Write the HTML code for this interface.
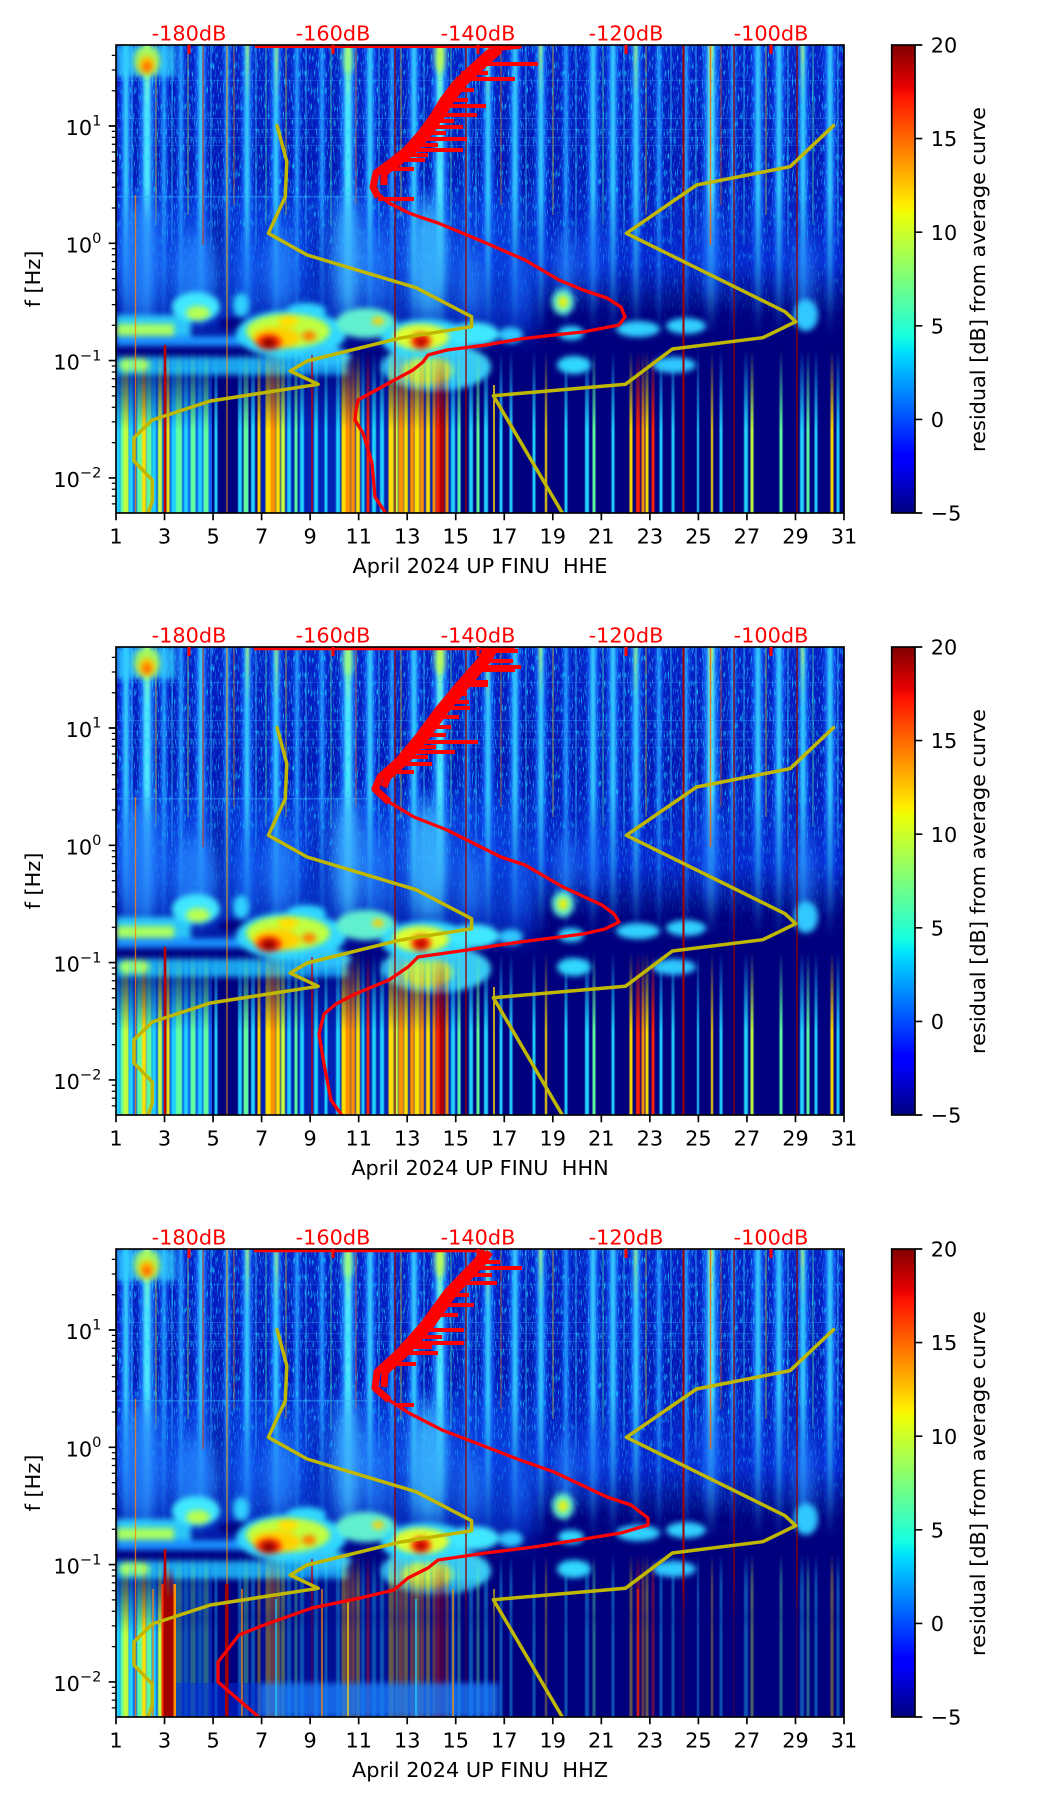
<!DOCTYPE html>
<html><head><meta charset="utf-8"><title>Spectrogram FINU April 2024</title>
<style>
html,body{margin:0;padding:0;background:#fff}
svg{display:block}
text{font-family:"DejaVu Sans","Liberation Sans",sans-serif;font-size:20.83px;fill:#000}
.db{fill:#ff0000;text-anchor:middle}
.xt{text-anchor:middle}
.yl{fill:none;stroke:#c0b800;stroke-width:3.5;stroke-linejoin:round;stroke-linecap:round}
.rd{fill:none;stroke:#ff0000;stroke-width:3.3;stroke-linejoin:round;stroke-linecap:round}
.rj{fill:none;stroke:#ff0000;stroke-width:7;stroke-linejoin:round}
.sp{stroke:#ff0000;stroke-width:4}
</style></head><body>
<svg xmlns="http://www.w3.org/2000/svg" width="1052" height="1806" viewBox="0 0 1052 1806">
<defs>
<linearGradient id="jet" x1="0" y1="1" x2="0" y2="0">
<stop offset="0" stop-color="#00007f"/><stop offset="0.11" stop-color="#0000ff"/><stop offset="0.125" stop-color="#0000ff"/>
<stop offset="0.34" stop-color="#00dbff"/><stop offset="0.35" stop-color="#00e6f7"/><stop offset="0.375" stop-color="#15ffe2"/>
<stop offset="0.64" stop-color="#eeff08"/><stop offset="0.65" stop-color="#f7f500"/><stop offset="0.66" stop-color="#ffec00"/>
<stop offset="0.89" stop-color="#ff1300"/><stop offset="0.91" stop-color="#e80000"/><stop offset="1" stop-color="#800000"/>
</linearGradient>
<linearGradient id="gTop" gradientUnits="userSpaceOnUse" x1="0" y1="0" x2="0" y2="300">
<stop offset="0" stop-color="#0620c8"/><stop offset="0.4" stop-color="#0418b8"/><stop offset="0.72" stop-color="#0628d0"/>
<stop offset="0.85" stop-color="#02108f"/><stop offset="0.9" stop-color="#00007f"/><stop offset="1" stop-color="#00007f"/>
</linearGradient>
<linearGradient id="gmTop" gradientUnits="userSpaceOnUse" x1="0" y1="0" x2="0" y2="290">
<stop offset="0" stop-color="#fff"/><stop offset="0.5" stop-color="#fff"/><stop offset="0.75" stop-color="#fff" stop-opacity="0.55"/><stop offset="1" stop-color="#fff" stop-opacity="0"/>
</linearGradient>
<linearGradient id="gmLow" gradientUnits="userSpaceOnUse" x1="0" y1="305" x2="0" y2="385">
<stop offset="0" stop-color="#fff" stop-opacity="0"/><stop offset="1" stop-color="#fff" stop-opacity="1"/>
</linearGradient>
<linearGradient id="gDark" gradientUnits="userSpaceOnUse" x1="0" y1="328" x2="0" y2="368">
<stop offset="0" stop-color="#00007f" stop-opacity="0"/><stop offset="1" stop-color="#00007f" stop-opacity="0.6"/>
</linearGradient>
<linearGradient id="gDR" gradientUnits="userSpaceOnUse" x1="0" y1="318" x2="0" y2="350">
<stop offset="0" stop-color="#a00000" stop-opacity="0"/><stop offset="1" stop-color="#a00000" stop-opacity="1"/>
</linearGradient>
<linearGradient id="gYT" gradientUnits="userSpaceOnUse" x1="0" y1="0" x2="0" y2="60">
<stop offset="0" stop-color="#d0ff50" stop-opacity="0.8"/><stop offset="1" stop-color="#d0ff50" stop-opacity="0"/>
</linearGradient>
<mask id="mTop" maskUnits="userSpaceOnUse" x="0" y="0" width="728" height="468"><rect width="728" height="468" fill="url(#gmTop)"/></mask>
<mask id="mLow" maskUnits="userSpaceOnUse" x="0" y="0" width="728" height="468"><rect width="728" height="468" fill="url(#gmLow)"/></mask>
<clipPath id="clip"><rect x="0" y="0" width="728" height="468"/></clipPath>
<filter id="fb1" x="-20%" y="-5%" width="140%" height="110%" color-interpolation-filters="sRGB"><feGaussianBlur stdDeviation="1.2 0"/></filter>
<filter id="fb6" x="-50%" y="-50%" width="200%" height="200%" color-interpolation-filters="sRGB"><feGaussianBlur stdDeviation="7 12"/></filter>
<filter id="fb3" x="-20%" y="-20%" width="140%" height="140%" color-interpolation-filters="sRGB"><feGaussianBlur stdDeviation="3"/></filter>
<filter id="fb05" x="-5%" y="-5%" width="110%" height="110%" color-interpolation-filters="sRGB"><feGaussianBlur stdDeviation="0.6 0"/></filter>
<filter id="nz" filterUnits="userSpaceOnUse" x="0" y="0" width="728" height="300" color-interpolation-filters="sRGB">
<feTurbulence type="fractalNoise" baseFrequency="0.8 0.12" numOctaves="2" seed="7"/>
<feColorMatrix type="matrix" values="0 0 0 0 0.1  0 0 0 0 0.8  0 0 0 0 1  3.5 0 0 0 -1.9"/>
</filter>

<g id="spec">
<rect width="728" height="468" fill="#00007f"/>
<rect width="728" height="300" fill="url(#gTop)"/>
<rect x="0" y="150" width="420" height="140" fill="#0c48e8" opacity="0.6" filter="url(#fb6)"/>
<g fill="#000080" filter="url(#fb6)">
<ellipse cx="103" cy="210" rx="9" ry="55" opacity="0.6"/>
<ellipse cx="205" cy="205" rx="8" ry="45" opacity="0.45"/>
<ellipse cx="405" cy="140" rx="8" ry="100" opacity="0.35"/>
</g>
<g mask="url(#mTop)">
<g filter="url(#fb1)">
<g fill="#1a70ff" opacity="0.75"><rect x="23" y="0" width="16" height="290"/><rect x="224" y="0" width="16" height="290"/><rect x="316" y="0" width="16" height="290"/><rect x="587" y="0" width="16" height="290"/></g>
<g fill="#1460ff" opacity="0.7"><rect x="4" y="0" width="12" height="290"/><rect x="79" y="0" width="12" height="290"/><rect x="125" y="0" width="12" height="290"/><rect x="154" y="0" width="12" height="290"/><rect x="248" y="0" width="12" height="290"/><rect x="292" y="0" width="12" height="290"/><rect x="366" y="0" width="12" height="290"/><rect x="393" y="0" width="12" height="290"/><rect x="419" y="0" width="12" height="290"/><rect x="471" y="0" width="12" height="290"/><rect x="491" y="0" width="12" height="290"/><rect x="514" y="0" width="12" height="290"/><rect x="636" y="0" width="12" height="290"/><rect x="657" y="0" width="12" height="290"/><rect x="681" y="0" width="12" height="290"/><rect x="708" y="0" width="12" height="290"/></g>
<g fill="#0e50f0" opacity="0.7"><rect x="44" y="0" width="8" height="290"/><rect x="61" y="0" width="8" height="290"/><rect x="107" y="0" width="8" height="290"/><rect x="177" y="0" width="8" height="290"/><rect x="202" y="0" width="8" height="290"/><rect x="272" y="0" width="8" height="290"/><rect x="347" y="0" width="8" height="290"/><rect x="446" y="0" width="8" height="290"/><rect x="539" y="0" width="8" height="290"/><rect x="566" y="0" width="8" height="290"/><rect x="613" y="0" width="8" height="290"/></g>
<g fill="#50e8ff"><rect x="27.5" y="0" width="7" height="290"/><rect x="228.5" y="0" width="7" height="290"/><rect x="320.5" y="0" width="7" height="290"/><rect x="591.5" y="0" width="7" height="290"/></g>
<g fill="#38c8ff"><rect x="7.5" y="0" width="5" height="290"/><rect x="82.5" y="0" width="5" height="290"/><rect x="128.5" y="0" width="5" height="290"/><rect x="157.5" y="0" width="5" height="290"/><rect x="251.5" y="0" width="5" height="290"/><rect x="295.5" y="0" width="5" height="290"/><rect x="369.5" y="0" width="5" height="290"/><rect x="396.5" y="0" width="5" height="290"/><rect x="422.5" y="0" width="5" height="290"/><rect x="474.5" y="0" width="5" height="290"/><rect x="494.5" y="0" width="5" height="290"/><rect x="517.5" y="0" width="5" height="290"/><rect x="639.5" y="0" width="5" height="290"/><rect x="660.5" y="0" width="5" height="290"/><rect x="684.5" y="0" width="5" height="290"/><rect x="711.5" y="0" width="5" height="290"/></g>
<g fill="#2aa0ff"><rect x="46.5" y="0" width="3" height="290"/><rect x="63.5" y="0" width="3" height="290"/><rect x="109.5" y="0" width="3" height="290"/><rect x="179.5" y="0" width="3" height="290"/><rect x="204.5" y="0" width="3" height="290"/><rect x="274.5" y="0" width="3" height="290"/><rect x="349.5" y="0" width="3" height="290"/><rect x="448.5" y="0" width="3" height="290"/><rect x="541.5" y="0" width="3" height="290"/><rect x="568.5" y="0" width="3" height="290"/><rect x="615.5" y="0" width="3" height="290"/></g>
<g fill="url(#gYT)"><rect x="29" y="0" width="4" height="60"/><rect x="230" y="0" width="4" height="60"/><rect x="322" y="0" width="4" height="60"/><rect x="593" y="0" width="4" height="60"/><rect x="130" y="0" width="3" height="60"/><rect x="159" y="0" width="3" height="60"/><rect x="370" y="0" width="3" height="60"/><rect x="423" y="0" width="3" height="60"/><rect x="518" y="0" width="3" height="60"/><rect x="685" y="0" width="3" height="60"/></g>
</g>
<g opacity="0.55" stroke-width="1.2">
<line x1="16" y1="0" x2="16" y2="200" stroke="#40e0ff"/><line x1="40" y1="0" x2="40" y2="180" stroke="#ffe000"/><line x1="56" y1="0" x2="56" y2="200" stroke="#40e0ff"/><line x1="72" y1="0" x2="72" y2="170" stroke="#c0ff40"/><line x1="95" y1="0" x2="95" y2="200" stroke="#40e0ff"/><line x1="118" y1="0" x2="118" y2="160" stroke="#ffa000"/><line x1="140" y1="0" x2="140" y2="200" stroke="#40e0ff"/><line x1="150" y1="0" x2="150" y2="180" stroke="#60ffa0"/><line x1="170" y1="0" x2="170" y2="170" stroke="#ffe000"/><line x1="190" y1="0" x2="190" y2="200" stroke="#40e0ff"/><line x1="215" y1="0" x2="215" y2="180" stroke="#60ffa0"/><line x1="240" y1="0" x2="240" y2="160" stroke="#ff6000"/><line x1="263" y1="0" x2="263" y2="200" stroke="#40e0ff"/><line x1="285" y1="0" x2="285" y2="170" stroke="#ffe000"/><line x1="308" y1="0" x2="308" y2="200" stroke="#40e0ff"/><line x1="335" y1="0" x2="335" y2="180" stroke="#60ffa0"/><line x1="360" y1="0" x2="360" y2="200" stroke="#40e0ff"/><line x1="385" y1="0" x2="385" y2="160" stroke="#ff8000"/><line x1="410" y1="0" x2="410" y2="200" stroke="#40e0ff"/><line x1="437" y1="0" x2="437" y2="170" stroke="#ffe000"/><line x1="460" y1="0" x2="460" y2="200" stroke="#40e0ff"/><line x1="487" y1="0" x2="487" y2="180" stroke="#60ffa0"/><line x1="508" y1="0" x2="508" y2="200" stroke="#40e0ff"/><line x1="530" y1="0" x2="530" y2="170" stroke="#ffe000"/><line x1="555" y1="0" x2="555" y2="200" stroke="#40e0ff"/><line x1="580" y1="0" x2="580" y2="200" stroke="#40e0ff"/><line x1="605" y1="0" x2="605" y2="160" stroke="#ff6000"/><line x1="628" y1="0" x2="628" y2="200" stroke="#40e0ff"/><line x1="650" y1="0" x2="650" y2="170" stroke="#ffe000"/><line x1="672" y1="0" x2="672" y2="200" stroke="#40e0ff"/><line x1="697" y1="0" x2="697" y2="180" stroke="#60ffa0"/><line x1="722" y1="0" x2="722" y2="200" stroke="#40e0ff"/>
</g>
<rect width="728" height="300" filter="url(#nz)"/>
</g>
<g fill="#30b0ff">
<rect x="0" y="73" width="728" height="1" opacity="0.35"/><rect x="0" y="84" width="728" height="1" opacity="0.25"/>
<rect x="0" y="92" width="728" height="1" opacity="0.25"/><rect x="0" y="100" width="728" height="1" opacity="0.25"/>
<rect x="0" y="151" width="260" height="1.5" opacity="0.45"/><rect x="0" y="35" width="728" height="1" opacity="0.25"/>
</g>
<g filter="url(#fb3)">
<rect x="0" y="0" width="60" height="32" fill="#30d0ff" opacity="0.75"/>
<ellipse cx="31" cy="16" rx="13" ry="16" fill="#b0ff50" opacity="0.9"/>
<ellipse cx="31" cy="20" rx="8" ry="9" fill="#ffc000"/>
<ellipse cx="31" cy="22" rx="4" ry="5" fill="#ff6000"/>
<ellipse cx="324" cy="12" rx="5" ry="16" fill="#c8ff40" opacity="0.8"/>
<ellipse cx="232" cy="14" rx="5" ry="16" fill="#a0ff70" opacity="0.7"/>
</g>
<g filter="url(#fb6)">
<ellipse cx="25" cy="215" rx="20" ry="60" fill="#2a8cff" opacity="0.7"/>
<ellipse cx="80" cy="228" rx="22" ry="42" fill="#2a90ff" opacity="0.7"/>
<ellipse cx="130" cy="230" rx="9" ry="35" fill="#2080ff" opacity="0.6"/>
<ellipse cx="165" cy="225" rx="15" ry="42" fill="#2a90ff" opacity="0.7"/>
<ellipse cx="232" cy="212" rx="15" ry="60" fill="#40b8ff" opacity="0.75"/>
<ellipse cx="262" cy="225" rx="11" ry="42" fill="#2a90ff" opacity="0.6"/>
<ellipse cx="312" cy="215" rx="18" ry="60" fill="#40c4ff" opacity="0.8"/>
<ellipse cx="355" cy="238" rx="12" ry="35" fill="#2a90ff" opacity="0.6"/>
<ellipse cx="405" cy="235" rx="9" ry="35" fill="#1c70ff" opacity="0.5"/>
<ellipse cx="450" cy="222" rx="11" ry="35" fill="#2a90ff" opacity="0.6"/>
<ellipse cx="478" cy="212" rx="9" ry="38" fill="#1c70ff" opacity="0.5"/>
<ellipse cx="595" cy="205" rx="11" ry="50" fill="#1c70ff" opacity="0.5"/>
<ellipse cx="688" cy="228" rx="10" ry="40" fill="#2a90ff" opacity="0.6"/>
</g>
<g filter="url(#fb3)">
<rect x="0" y="270" width="75" height="28" fill="#30d8ff" opacity="0.9"/>
<rect x="0" y="279" width="58" height="12" fill="#a8ff60"/>
<rect x="0" y="291" width="135" height="10" fill="#1a90ff"/>
<rect x="0" y="302" width="140" height="9" fill="#000080" opacity="0.8"/>
<rect x="0" y="312" width="232" height="18" fill="#20c0ff" opacity="0.85"/>
<ellipse cx="18" cy="320" rx="16" ry="7" fill="#a0ff70"/>
<ellipse cx="80" cy="262" rx="24" ry="15" fill="#40e8ff"/>
<ellipse cx="82" cy="268" rx="12" ry="7" fill="#b8ff50"/>
<ellipse cx="125" cy="260" rx="8" ry="12" fill="#30d0ff"/>
<ellipse cx="120" cy="279" rx="18" ry="6" fill="#000080"/>
<ellipse cx="190" cy="266" rx="20" ry="8" fill="#30d8ff"/>
<ellipse cx="175" cy="289" rx="55" ry="24" fill="#30d8ff"/>
<ellipse cx="172" cy="286" rx="42" ry="17" fill="#c0ff40"/>
<ellipse cx="172" cy="276" rx="10" ry="6" fill="#ffe000"/>
<ellipse cx="160" cy="293" rx="24" ry="11" fill="#ffd000"/>
<ellipse cx="153" cy="297" rx="13" ry="8" fill="#ff3000"/>
<ellipse cx="153" cy="298" rx="7" ry="5" fill="#900000"/>
<ellipse cx="193" cy="291" rx="7" ry="5" fill="#ff8000"/>
<ellipse cx="210" cy="312" rx="25" ry="10" fill="#30c8ff"/>
<ellipse cx="250" cy="278" rx="30" ry="15" fill="#60f0d0"/>
<ellipse cx="262" cy="276" rx="6" ry="4" fill="#ffd000"/>
<ellipse cx="320" cy="322" rx="55" ry="24" fill="#40e0ff" opacity="0.9"/>
<ellipse cx="312" cy="326" rx="26" ry="14" fill="#d0ff40" opacity="0.8"/>
<ellipse cx="310" cy="294" rx="45" ry="20" fill="#30d8ff"/>
<ellipse cx="305" cy="292" rx="28" ry="13" fill="#e0ff30"/>
<ellipse cx="305" cy="296" rx="10" ry="8" fill="#ff3000"/>
<ellipse cx="305" cy="297" rx="5" ry="4" fill="#b00000"/>
<ellipse cx="358" cy="289" rx="25" ry="12" fill="#40e8ff"/>
<ellipse cx="395" cy="290" rx="12" ry="8" fill="#30c8ff"/>
<ellipse cx="447" cy="257" rx="11" ry="13" fill="#60f0d0"/>
<ellipse cx="447" cy="257" rx="5" ry="6" fill="#f0f000"/>
<ellipse cx="455" cy="288" rx="13" ry="7" fill="#30d8ff"/>
<ellipse cx="522" cy="284" rx="22" ry="8" fill="#30d0ff"/>
<ellipse cx="570" cy="281" rx="20" ry="8" fill="#30d0ff"/>
<ellipse cx="690" cy="270" rx="12" ry="16" fill="#30c8ff"/>
<ellipse cx="458" cy="320" rx="17" ry="9" fill="#30d8ff"/>
<ellipse cx="558" cy="320" rx="22" ry="8" fill="#30c8ff"/>
</g>
<g mask="url(#mLow)">
<rect x="0" y="300" width="96" height="168" fill="#0a78ff" opacity="0.85"/>
<rect x="145" y="300" width="200" height="168" fill="#0038d8" opacity="0.6"/>
<g filter="url(#fb05)">
<rect x="0" y="300" width="4" height="168" fill="#20d0ff"/><rect x="4.5" y="300" width="3" height="168" fill="#60ffa0"/><rect x="7.5" y="300" width="5" height="168" fill="#c0ff40"/><rect x="13" y="300" width="4" height="168" fill="#20d0ff"/><rect x="21" y="300" width="6" height="168" fill="#60ffa0"/><rect x="26" y="300" width="4" height="168" fill="#ffe000"/><rect x="30.5" y="300" width="5" height="168" fill="#60ffa0"/><rect x="36" y="300" width="4" height="168" fill="#20d0ff"/><rect x="42" y="300" width="4" height="168" fill="#c0ff40"/><rect x="50.5" y="300" width="3" height="168" fill="#ffe000"/><rect x="55.5" y="300" width="5" height="168" fill="#20d0ff"/><rect x="60" y="300" width="6" height="168" fill="#60ffa0"/><rect x="68" y="300" width="4" height="168" fill="#20d0ff"/><rect x="74.5" y="300" width="5" height="168" fill="#60ffa0"/><rect x="82" y="300" width="4" height="168" fill="#20d0ff"/><rect x="87.5" y="300" width="5" height="168" fill="#60ffa0"/><rect x="98.5" y="300" width="3" height="168" fill="#20d0ff"/>
<rect x="122" y="300" width="4" height="168" fill="#20d0ff"/><rect x="127.5" y="300" width="5" height="168" fill="#60ffa0"/><rect x="135" y="300" width="4" height="168" fill="#20d0ff"/><rect x="141.5" y="300" width="3" height="168" fill="#ffe000"/><rect x="149.5" y="300" width="5" height="168" fill="#ffe000"/><rect x="154.5" y="300" width="5" height="168" fill="#ff9000"/><rect x="160" y="300" width="4" height="168" fill="#ffe000"/><rect x="165" y="300" width="4" height="168" fill="#c0ff40"/><rect x="171" y="300" width="4" height="168" fill="#20d0ff"/><rect x="178.5" y="300" width="3" height="168" fill="#60ffa0"/><rect x="184" y="300" width="4" height="168" fill="#20d0ff"/><rect x="198" y="300" width="4" height="168" fill="#20d0ff"/><rect x="208.5" y="300" width="3" height="168" fill="#20d0ff"/>
<rect x="220" y="300" width="4" height="168" fill="#20d0ff"/><rect x="225.5" y="300" width="5" height="168" fill="#ffe000"/><rect x="229.5" y="300" width="5" height="168" fill="#ff9000"/><rect x="235" y="300" width="4" height="168" fill="#ff9000"/><rect x="240" y="300" width="4" height="168" fill="#ffe000"/><rect x="245.5" y="300" width="3" height="168" fill="#20d0ff"/><rect x="250.5" y="300" width="3" height="168" fill="#ff2000"/><rect x="256" y="300" width="4" height="168" fill="#20d0ff"/><rect x="264" y="300" width="4" height="168" fill="#20d0ff"/><rect x="272.5" y="300" width="5" height="168" fill="#ffe000"/><rect x="278" y="300" width="4" height="168" fill="#c0ff40"/><rect x="282.5" y="300" width="5" height="168" fill="#ff9000"/><rect x="288" y="300" width="4" height="168" fill="#ffe000"/><rect x="294" y="300" width="4" height="168" fill="#ff9000"/><rect x="298.5" y="300" width="5" height="168" fill="#ffe000"/><rect x="304" y="300" width="4" height="168" fill="#ff9000"/><rect x="310" y="300" width="4" height="168" fill="#ffe000"/><rect x="316.5" y="300" width="3" height="168" fill="#ff9000"/><rect x="320" y="300" width="4" height="168" fill="#ff2000"/><rect x="323.5" y="300" width="5" height="168" fill="#b00000"/><rect x="329.5" y="300" width="3" height="168" fill="#ff9000"/><rect x="335" y="300" width="4" height="168" fill="#20d0ff"/><rect x="341.5" y="300" width="3" height="168" fill="#60ffa0"/>
<rect x="353" y="300" width="4" height="168" fill="#20d0ff"/><rect x="360.5" y="300" width="3" height="168" fill="#60ffa0"/><rect x="368" y="300" width="4" height="168" fill="#20d0ff"/><rect x="383.5" y="300" width="3" height="168" fill="#20d0ff"/><rect x="393.5" y="300" width="3" height="168" fill="#20d0ff"/><rect x="416.5" y="300" width="3" height="168" fill="#20d0ff"/><rect x="429" y="300" width="2" height="168" fill="#ffe000"/><rect x="448.5" y="300" width="3" height="168" fill="#20d0ff"/><rect x="469" y="300" width="4" height="168" fill="#20d0ff"/><rect x="476.5" y="300" width="3" height="168" fill="#60ffa0"/><rect x="495.5" y="300" width="3" height="168" fill="#20d0ff"/>
<rect x="513.5" y="300" width="3" height="168" fill="#ffe000"/><rect x="520" y="300" width="4" height="168" fill="#ff2000"/><rect x="525.5" y="300" width="3" height="168" fill="#ff9000"/><rect x="529.5" y="300" width="3" height="168" fill="#ffe000"/><rect x="535.5" y="300" width="3" height="168" fill="#ff2000"/><rect x="543.5" y="300" width="3" height="168" fill="#20d0ff"/><rect x="555.5" y="300" width="3" height="168" fill="#20d0ff"/><rect x="581" y="300" width="2" height="168" fill="#20d0ff"/><rect x="595" y="300" width="2" height="168" fill="#ffe000"/><rect x="603.5" y="300" width="3" height="168" fill="#20d0ff"/><rect x="628" y="300" width="4" height="168" fill="#20d0ff"/><rect x="634.5" y="300" width="3" height="168" fill="#c0ff40"/><rect x="663.5" y="300" width="3" height="168" fill="#60ffa0"/><rect x="684" y="300" width="4" height="168" fill="#20d0ff"/><rect x="690.5" y="300" width="3" height="168" fill="#60ffa0"/><rect x="698.5" y="300" width="3" height="168" fill="#20d0ff"/><rect x="714.5" y="300" width="3" height="168" fill="#ffe000"/><rect x="720.5" y="300" width="3" height="168" fill="#20d0ff"/>
</g>
</g>
<g stroke-width="1.3">
<line x1="19.5" y1="150" x2="19.5" y2="468" stroke="#ff8000" opacity="0.8"/>
<line x1="49" y1="300" x2="49" y2="468" stroke="#c00000" stroke-width="2.5"/>
<line x1="87" y1="0" x2="87" y2="200" stroke="#e02000" opacity="0.7"/>
<line x1="111" y1="0" x2="111" y2="468" stroke="#ffa000" opacity="0.7"/>
<line x1="196" y1="310" x2="196" y2="468" stroke="#d00000"/>
<line x1="279" y1="0" x2="279" y2="468" stroke="#900000"/>
<line x1="350" y1="0" x2="350" y2="468" stroke="#900000"/>
<line x1="378" y1="340" x2="378" y2="468" stroke="#ffe000" stroke-width="1.5"/>
<line x1="567.5" y1="0" x2="567.5" y2="468" stroke="#a00000" stroke-width="2"/>
<line x1="594.5" y1="0" x2="594.5" y2="200" stroke="#ff6000" stroke-width="1.5" opacity="0.8"/>
<line x1="618" y1="0" x2="618" y2="468" stroke="#900000"/>
<line x1="681" y1="0" x2="681" y2="468" stroke="#900000"/>
</g>
</g>

<g id="ticks" stroke="#000" fill="none">
<rect x="0" y="0" width="728" height="468" stroke-width="1.67"/>
<path stroke-width="1.67" d="M0,468v7.3M48.53,468v7.3M97.07,468v7.3M145.6,468v7.3M194.13,468v7.3M242.67,468v7.3M291.2,468v7.3M339.73,468v7.3M388.27,468v7.3M436.8,468v7.3M485.33,468v7.3M533.87,468v7.3M582.4,468v7.3M630.93,468v7.3M679.47,468v7.3M728,468v7.3M0,81h-7.3M0,198.3h-7.3M0,315.6h-7.3M0,432.9h-7.3"/>
<path stroke-width="1.25" d="M0,10.4h-4.2M0,25h-4.2M0,45.7h-4.2M0,86.4h-4.2M0,92.4h-4.2M0,99.2h-4.2M0,107h-4.2M0,116.3h-4.2M0,127.7h-4.2M0,142.3h-4.2M0,163h-4.2M0,203.7h-4.2M0,209.7h-4.2M0,216.5h-4.2M0,224.3h-4.2M0,233.6h-4.2M0,245h-4.2M0,259.6h-4.2M0,280.3h-4.2M0,321h-4.2M0,327h-4.2M0,333.8h-4.2M0,341.6h-4.2M0,350.9h-4.2M0,362.3h-4.2M0,376.9h-4.2M0,397.6h-4.2M0,438.3h-4.2M0,444.3h-4.2M0,451.1h-4.2M0,458.9h-4.2"/>
<rect x="775.7" y="0" width="23.3" height="468" fill="url(#jet)" stroke-width="1.67"/>
<path stroke-width="1.67" d="M799,0h7.3M799,93.6h7.3M799,187.2h7.3M799,280.8h7.3M799,374.4h7.3M799,468h7.3"/>
<path stroke="#ff0000" stroke-width="3" d="M73,0v9M217,0v9M362,0v9M510,0v9M655,0v9"/>
</g>
</defs>

<!-- ================= PANEL 1 (HHE) ================= -->
<g transform="translate(116,45)">
<g clip-path="url(#clip)">
<use href="#spec"/>
<polyline class="yl" points="161.1,80.7 170.8,116.7 169.3,151.7 152.4,188.3 191.1,210 300,242.7 355.6,271.7 355.6,281.7 283,293.3 191.1,316 174.2,326 202.2,339.3 94.3,356 36.3,375 17.9,392.7 17.9,416 36.3,435 36.3,456 31.4,470"/>
<polyline class="yl" points="717.5,80.7 674,121.7 580.6,140 510.4,188.3 669,266.7 679.7,276.7 646.8,292.7 556.4,304 509.4,339.3 377.4,350.7 447.5,470"/>
<polyline class="rd" points="271,470 259,452 256,418 247,388 239,375 240,365 242,355 273,338 297,325 307,317 312,310 331,305 370,300 404,294 447,289 467,287 503,280 509,272 505,262 491,253 467,245 443,235 409,215 370,198 351,190 322,178 304,172 293,168 273,158 261,148 257,142 260,128 275,117 290,105 305,88 318,70 327,55 340,38 357,22 368,12 376,5 404,2"/>
<polyline class="rj" points="262,152 257,142 260,128 275,117 290,105 305,88 318,70 327,55 340,38 357,22 368,12 376,5"/>
<polyline class="rj" points="268,140 268,128 283,117 298,105 313,88 326,70 335,55 348,38 365,22 376,12 384,5"/>
<path class="sp" d="M370,8H384M358,19H422M340,34H399M326,55H352M321,61H370M317,70H361M309,82H347M299,94H351M291,105H347M283,115H309M262,154H298M345,28H372M333,45H358M314,76H338M304,88H330M296,100H322M286,110H312M275,124H298"/>
<path stroke="#ff0000" stroke-width="3" d="M139,1.5H404"/>
</g>
<use href="#ticks"/>
<text class="db" x="73" y="-4.5">-180dB</text><text class="db" x="217" y="-4.5">-160dB</text><text class="db" x="362" y="-4.5">-140dB</text><text class="db" x="510" y="-4.5">-120dB</text><text class="db" x="655" y="-4.5">-100dB</text>
<text class="xt" x="0" y="498.5">1</text><text class="xt" x="48.5" y="498.5">3</text><text class="xt" x="97.1" y="498.5">5</text><text class="xt" x="145.6" y="498.5">7</text><text class="xt" x="194.1" y="498.5">9</text><text class="xt" x="242.7" y="498.5">11</text><text class="xt" x="291.2" y="498.5">13</text><text class="xt" x="339.7" y="498.5">15</text><text class="xt" x="388.3" y="498.5">17</text><text class="xt" x="436.8" y="498.5">19</text><text class="xt" x="485.3" y="498.5">21</text><text class="xt" x="533.9" y="498.5">23</text><text class="xt" x="582.4" y="498.5">25</text><text class="xt" x="630.9" y="498.5">27</text><text class="xt" x="679.5" y="498.5">29</text><text class="xt" x="728" y="498.5">31</text>
<text x="-14.6" y="90" text-anchor="end">10<tspan dy="-9.3" font-size="14.6">1</tspan></text>
<text x="-14.6" y="207.3" text-anchor="end">10<tspan dy="-9.3" font-size="14.6">0</tspan></text>
<text x="-14.6" y="324.6" text-anchor="end">10<tspan dy="-9.3" font-size="14.6">−1</tspan></text>
<text x="-14.6" y="441.9" text-anchor="end">10<tspan dy="-9.3" font-size="14.6">−2</tspan></text>
<text transform="translate(-76,234) rotate(-90)" text-anchor="middle">f [Hz]</text>
<text x="364" y="528" text-anchor="middle" xml:space="preserve" style="white-space:pre">April 2024 UP FINU  HHE</text>
<text x="814.7" y="7.6">20</text><text x="814.7" y="101.2">15</text><text x="814.7" y="194.8">10</text><text x="814.7" y="288.4">5</text><text x="814.7" y="382">0</text><text x="814.7" y="475.6">−5</text>
<text transform="translate(869,234.5) rotate(-90)" text-anchor="middle">residual [dB] from average curve</text>
</g>

<!-- ================= PANEL 2 (HHN) ================= -->
<g transform="translate(116,647)">
<g clip-path="url(#clip)">
<use href="#spec"/>
<polyline class="yl" points="161.1,80.7 170.8,116.7 169.3,151.7 152.4,188.3 191.1,210 300,242.7 355.6,271.7 355.6,281.7 283,293.3 191.1,316 174.2,326 202.2,339.3 94.3,356 36.3,375 17.9,392.7 17.9,416 36.3,435 36.3,456 31.4,470"/>
<polyline class="yl" points="717.5,80.7 674,121.7 580.6,140 510.4,188.3 669,266.7 679.7,276.7 646.8,292.7 556.4,304 509.4,339.3 377.4,350.7 447.5,470"/>
<polyline class="rd" points="227,470 215,453 208,417 203,387 208,367 220,357 239,347 273,333 292,320 302,310 351,303 404,295 467,287 489,282 503,275 498,267 486,258 447,240 409,218 385,210 351,193 331,183 298,170 273,155 259,142 264,130 283,113 302,90 322,63 341,40 365,13 370,3"/>
<polyline class="rj" points="273,155 259,142 264,130 283,113 302,90 322,63 341,40 365,13 370,3"/>
<polyline class="rj" points="268,140 272,130 291,113 310,90 330,63 349,40 372,13 378,3"/>
<path class="sp" d="M368,4H402M362,14H397M355,20H405M352,23H399M342,35H372M340,38H372M333,47H351M327,55H353M322,61H354M315,70H343M300,95H362M292,105H339M281,117H316M310,80H335M305,88H330M296,100H320M288,110H312M275,125H298"/>
<path stroke="#ff0000" stroke-width="3" d="M138,1.7H399"/>
</g>
<use href="#ticks"/>
<text class="db" x="73" y="-4.5">-180dB</text><text class="db" x="217" y="-4.5">-160dB</text><text class="db" x="362" y="-4.5">-140dB</text><text class="db" x="510" y="-4.5">-120dB</text><text class="db" x="655" y="-4.5">-100dB</text>
<text class="xt" x="0" y="498.5">1</text><text class="xt" x="48.5" y="498.5">3</text><text class="xt" x="97.1" y="498.5">5</text><text class="xt" x="145.6" y="498.5">7</text><text class="xt" x="194.1" y="498.5">9</text><text class="xt" x="242.7" y="498.5">11</text><text class="xt" x="291.2" y="498.5">13</text><text class="xt" x="339.7" y="498.5">15</text><text class="xt" x="388.3" y="498.5">17</text><text class="xt" x="436.8" y="498.5">19</text><text class="xt" x="485.3" y="498.5">21</text><text class="xt" x="533.9" y="498.5">23</text><text class="xt" x="582.4" y="498.5">25</text><text class="xt" x="630.9" y="498.5">27</text><text class="xt" x="679.5" y="498.5">29</text><text class="xt" x="728" y="498.5">31</text>
<text x="-14.6" y="90" text-anchor="end">10<tspan dy="-9.3" font-size="14.6">1</tspan></text>
<text x="-14.6" y="207.3" text-anchor="end">10<tspan dy="-9.3" font-size="14.6">0</tspan></text>
<text x="-14.6" y="324.6" text-anchor="end">10<tspan dy="-9.3" font-size="14.6">−1</tspan></text>
<text x="-14.6" y="441.9" text-anchor="end">10<tspan dy="-9.3" font-size="14.6">−2</tspan></text>
<text transform="translate(-76,234) rotate(-90)" text-anchor="middle">f [Hz]</text>
<text x="364" y="528" text-anchor="middle" xml:space="preserve" style="white-space:pre">April 2024 UP FINU  HHN</text>
<text x="814.7" y="7.6">20</text><text x="814.7" y="101.2">15</text><text x="814.7" y="194.8">10</text><text x="814.7" y="288.4">5</text><text x="814.7" y="382">0</text><text x="814.7" y="475.6">−5</text>
<text transform="translate(869,234.5) rotate(-90)" text-anchor="middle">residual [dB] from average curve</text>
</g>

<!-- ================= PANEL 3 (HHZ) ================= -->
<g transform="translate(116,1249)">
<g clip-path="url(#clip)">
<use href="#spec"/>
<rect x="60" y="328" width="668" height="140" fill="url(#gDark)"/>
<rect x="60" y="434" width="84" height="34" fill="#0030e0" opacity="0.5"/>
<rect x="143" y="434" width="240" height="34" fill="#1a80ff" opacity="0.75" filter="url(#fb3)"/>
<rect x="47" y="318" width="11" height="150" fill="url(#gDR)"/>
<rect x="45.5" y="335" width="2" height="133" fill="#ff3000"/>
<rect x="57.5" y="335" width="2.5" height="133" fill="#ff9000"/>
<rect x="109" y="335" width="3.5" height="133" fill="#a00000"/>
<g stroke-width="1.3">
<line x1="37" y1="340" x2="37" y2="468" stroke="#ff8000"/>
<line x1="126" y1="340" x2="126" y2="468" stroke="#ff9000"/>
<line x1="206" y1="340" x2="206" y2="468" stroke="#ff9000"/>
<line x1="337" y1="340" x2="337" y2="468" stroke="#ff9000"/>
<line x1="160" y1="350" x2="160" y2="468" stroke="#20d0ff"/>
<line x1="232" y1="350" x2="232" y2="468" stroke="#ffe000"/>
<line x1="300" y1="350" x2="300" y2="468" stroke="#20d0ff"/>
<line x1="522" y1="340" x2="522" y2="468" stroke="#ff2000"/>
</g>
<polyline class="yl" points="161.1,80.7 170.8,116.7 169.3,151.7 152.4,188.3 191.1,210 300,242.7 355.6,271.7 355.6,281.7 283,293.3 191.1,316 174.2,326 202.2,339.3 94.3,356 36.3,375 17.9,392.7 17.9,416 36.3,435 36.3,456 31.4,470"/>
<polyline class="yl" points="717.5,80.7 674,121.7 580.6,140 510.4,188.3 669,266.7 679.7,276.7 646.8,292.7 556.4,304 509.4,339.3 377.4,350.7 447.5,470"/>
<polyline class="rd" points="145,470 102,433 102,413 123,386 148,376 196,359 244,349 278,341 292,329 312,319 322,311 370,304 418,298 505,284 532,276 532,269 515,256 491,248 438,223 404,211 360,194 326,181 293,164 273,151 259,139 261,123 283,103 307,76 331,43 360,13 368,3"/>
<polyline class="rj" points="273,151 259,139 261,123 283,103 307,76 331,43 360,13 368,3"/>
<polyline class="rj" points="268,138 269,123 291,103 315,76 339,43 367,13 374,3"/>
<path class="sp" d="M361,13H384M356,19H406M345,34H381M337,46H353M330,56H358M310,81H348M298,94H348M285,104H322M281,156H298M350,26H376M320,66H342M304,88H326M292,98H316M278,115H300"/>
<path stroke="#ff0000" stroke-width="3" d="M138,1.7H368"/>
</g>
<use href="#ticks"/>
<text class="db" x="73" y="-4.5">-180dB</text><text class="db" x="217" y="-4.5">-160dB</text><text class="db" x="362" y="-4.5">-140dB</text><text class="db" x="510" y="-4.5">-120dB</text><text class="db" x="655" y="-4.5">-100dB</text>
<text class="xt" x="0" y="498.5">1</text><text class="xt" x="48.5" y="498.5">3</text><text class="xt" x="97.1" y="498.5">5</text><text class="xt" x="145.6" y="498.5">7</text><text class="xt" x="194.1" y="498.5">9</text><text class="xt" x="242.7" y="498.5">11</text><text class="xt" x="291.2" y="498.5">13</text><text class="xt" x="339.7" y="498.5">15</text><text class="xt" x="388.3" y="498.5">17</text><text class="xt" x="436.8" y="498.5">19</text><text class="xt" x="485.3" y="498.5">21</text><text class="xt" x="533.9" y="498.5">23</text><text class="xt" x="582.4" y="498.5">25</text><text class="xt" x="630.9" y="498.5">27</text><text class="xt" x="679.5" y="498.5">29</text><text class="xt" x="728" y="498.5">31</text>
<text x="-14.6" y="90" text-anchor="end">10<tspan dy="-9.3" font-size="14.6">1</tspan></text>
<text x="-14.6" y="207.3" text-anchor="end">10<tspan dy="-9.3" font-size="14.6">0</tspan></text>
<text x="-14.6" y="324.6" text-anchor="end">10<tspan dy="-9.3" font-size="14.6">−1</tspan></text>
<text x="-14.6" y="441.9" text-anchor="end">10<tspan dy="-9.3" font-size="14.6">−2</tspan></text>
<text transform="translate(-76,234) rotate(-90)" text-anchor="middle">f [Hz]</text>
<text x="364" y="528" text-anchor="middle" xml:space="preserve" style="white-space:pre">April 2024 UP FINU  HHZ</text>
<text x="814.7" y="7.6">20</text><text x="814.7" y="101.2">15</text><text x="814.7" y="194.8">10</text><text x="814.7" y="288.4">5</text><text x="814.7" y="382">0</text><text x="814.7" y="475.6">−5</text>
<text transform="translate(869,234.5) rotate(-90)" text-anchor="middle">residual [dB] from average curve</text>
</g>
</svg>
</body></html>
